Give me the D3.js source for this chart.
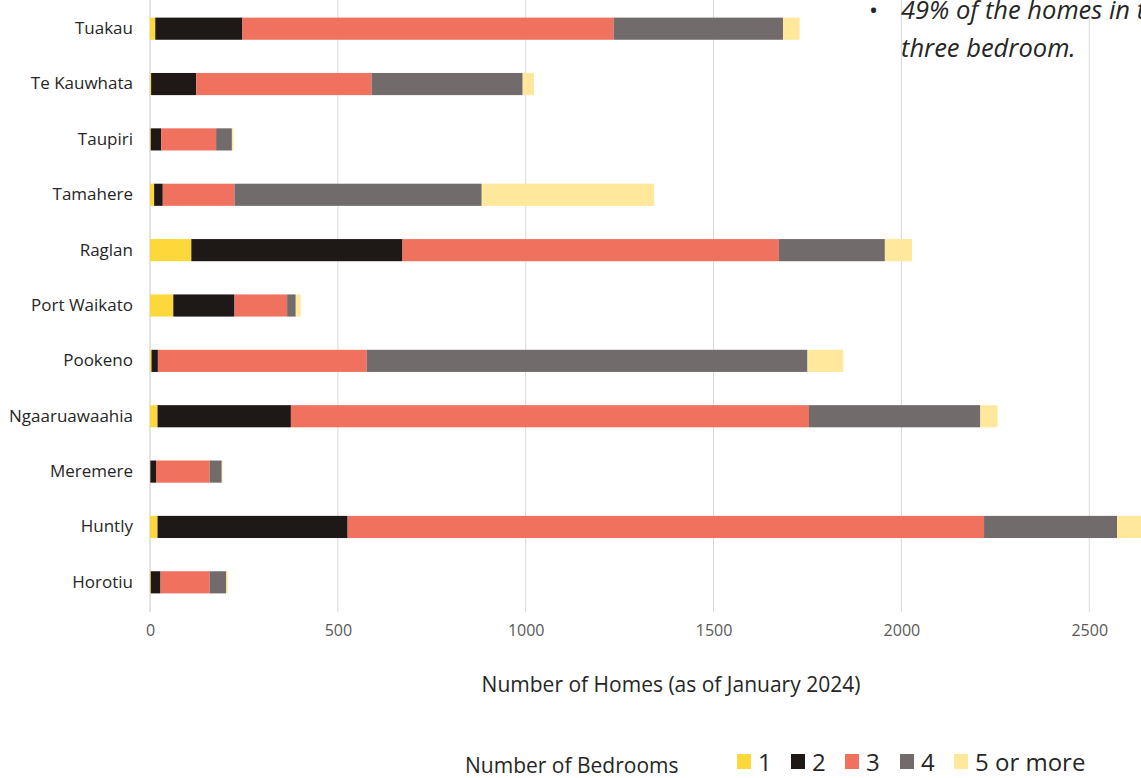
<!DOCTYPE html>
<html>
<head>
<meta charset="utf-8">
<script src="https://cdn.jsdelivr.net/npm/d3@7"></script>
<style>
  body { margin: 0; background: #fff; overflow: hidden; }
  svg { display: block; font-family: "Open Sans", sans-serif; }
</style>
</head>
<body>
<div id="chart"></div>
<script>
// towns, top to bottom
const towns = ["Tuakau", "Te Kauwhata", "Taupiri", "Tamahere", "Raglan", "Port Waikato",
  "Pookeno", "Ngaaruawaahia", "Meremere", "Huntly", "Horotiu"];
const bedroomKeys = ["1", "2", "3", "4", "5 or more"];
// homes by number of bedrooms, same order as towns
const oneBed   = [14, 3, 2, 11, 110, 62, 4, 20, 1, 20, 2];
const twoBed   = [232, 120, 28, 23, 562, 163, 17, 355, 15, 506, 26];
const threeBed = [988, 467, 146, 191, 1002, 140, 556, 1379, 143, 1694, 131];
const fourBed  = [451, 402, 42, 658, 282, 23, 1173, 456, 32, 354, 44];
const fiveBed  = [44, 30, 4, 459, 72, 13, 95, 46, 2, 70, 4];
const xTicks = [0, 500, 1000, 1500, 2000, 2500];
const colors = ["#fdd83a", "#1e1817", "#f0715e", "#716b6b", "#ffe79c"];

const width = 1141, height = 778;
const margin = {top: 1, left: 150, bottom: 168};

const rows = towns.map((t, i) => ({
  town: t,
  "1": oneBed[i], "2": twoBed[i], "3": threeBed[i], "4": fourBed[i], "5 or more": fiveBed[i]
}));
const series = d3.stack().keys(bedroomKeys)(rows);

const svg = d3.select("#chart").append("svg")
    .attr("width", width)
    .attr("height", height);

const x = d3.scaleLinear()
    .domain([0, 3000])
    .range([margin.left, margin.left + 0.3757 * 3000]);

const y = d3.scaleBand()
    .domain(towns)
    .range([margin.top, height - margin.bottom])
    .paddingInner(0.6)
    .paddingOuter(0.3);

// gridlines
svg.append("g")
  .selectAll("line")
  .data(xTicks)
  .join("line")
    .attr("x1", d => x(d)).attr("x2", d => x(d))
    .attr("y1", 0).attr("y2", 612)
    .attr("stroke", d => d === 0 ? "#c8c8c8" : "#d9d9d9")
    .attr("stroke-width", 1);

// bars
svg.append("g")
  .selectAll("g")
  .data(series)
  .join("g")
    .attr("fill", (d, i) => colors[i])
  .selectAll("rect")
  .data(d => d)
  .join("rect")
    .attr("x", d => x(d[0]))
    .attr("y", d => y(d.data.town))
    .attr("width", d => x(d[1]) - x(d[0]))
    .attr("height", y.bandwidth());

// x axis labels
svg.append("g")
    .attr("transform", "translate(0,625)")
    .call(d3.axisBottom(x).tickValues(xTicks).tickFormat(d3.format("d")).tickSize(0).tickPadding(0))
    .call(g => g.select(".domain").remove())
    .call(g => g.selectAll(".tick text")
      .attr("font-size", 16)
      .attr("fill", "#595959")
      .attr("font-family", "Open Sans"));

// y axis labels
svg.append("g")
    .attr("transform", `translate(${margin.left},0)`)
    .call(d3.axisLeft(y).tickSize(0).tickPadding(17))
    .call(g => g.select(".domain").remove())
    .call(g => g.selectAll(".tick text")
      .attr("font-size", 17)
      .attr("fill", "#262626")
      .attr("font-family", "Open Sans"));

svg.append("text")
    .attr("x", 671)
    .attr("y", 692)
    .attr("text-anchor", "middle")
    .attr("font-size", 21)
    .attr("fill", "#262626")
    .text("Number of Homes (as of January 2024)");

// legend
const legend = svg.append("g").attr("transform", "translate(0,762)");
legend.append("text")
    .attr("x", 465).attr("y", 11)
    .attr("font-size", 21)
    .attr("fill", "#262626")
    .text("Number of Bedrooms");
const legendX = [737, 791, 845, 900, 954];
const item = legend.selectAll("g.item")
  .data(bedroomKeys)
  .join("g")
    .attr("class", "item")
    .attr("transform", (d, i) => `translate(${legendX[i]},0)`);
item.append("rect")
    .attr("x", 0).attr("y", -8)
    .attr("width", 14).attr("height", 15)
    .attr("fill", (d, i) => colors[i]);
item.append("text")
    .attr("x", 21).attr("y", 9)
    .attr("font-size", 24)
    .attr("fill", "#262626")
    .text(d => d);

// note on the right
const note = svg.append("g").attr("fill", "#262626");
note.append("text")
    .attr("x", 869).attr("y", 19)
    .attr("font-size", 24)
    .text("•");
note.append("text")
    .attr("x", 901).attr("y", 19)
    .attr("font-size", 25.5)
    .attr("font-style", "italic")
    .text("49% of the homes in the district are");
note.append("text")
    .attr("x", 901).attr("y", 57)
    .attr("font-size", 25.5)
    .attr("font-style", "italic")
    .text("three bedroom.");
</script>
</body>
</html>
